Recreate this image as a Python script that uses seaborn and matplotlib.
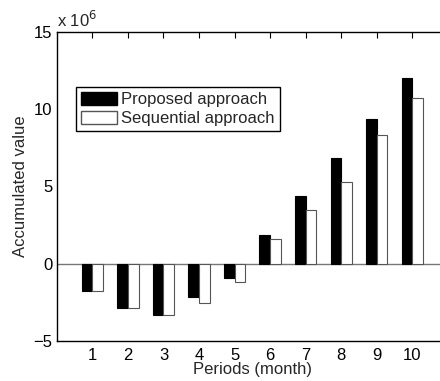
import seaborn as sns
import pandas as pd
import numpy as np
import matplotlib.pyplot as plt
from matplotlib.patches import Patch

# values in units of 10^6
periods = [1, 2, 3, 4, 5, 6, 7, 8, 9, 10]
proposed = [-1.75, -2.85, -3.34, -2.14, -0.90, 1.86, 4.38, 6.82, 9.37, 12.04]
sequential = [-1.75, -2.85, -3.34, -2.54, -1.16, 1.58, 3.47, 5.29, 8.31, 10.70]
series_names = ['Proposed approach', 'Sequential approach']

df = pd.DataFrame({
    'period': periods * 2,
    'value': proposed + sequential,
    'approach': [series_names[0]] * len(periods) + [series_names[1]] * len(periods),
})

sns.set_style('white')
plt.rcParams['font.family'] = ['Liberation Sans', 'DejaVu Sans']
plt.rcParams['font.size'] = 12

fig = plt.figure(figsize=(4.4, 3.81), dpi=100)
ax = fig.add_axes([0.129, 0.105, 0.889, 0.811])

sns.barplot(data=df, x='period', y='value', hue='approach', native_scale=True,
            palette=['black', 'white'], width=0.6, gap=0, dodge=True,
            edgecolor='#555555', linewidth=0.8, legend=False, ax=ax)
for i, bar in enumerate(ax.patches):
    if i < len(periods):
        bar.set_edgecolor('black')

ax.axhline(0, color='#777777', lw=1, zorder=0.5)
ax.set_xlim(0, 11)
ax.set_ylim(-5, 15)
ax.set_xticks(periods)
ax.set_yticks([-5, 0, 5, 10, 15])
ax.set_yticklabels(['\u22125', '0', '5', '10', '15'])
ax.tick_params(direction='in', length=4, width=0.8, top=True, right=True,
               labelsize=12, pad=3, colors='black')
ax.tick_params(axis='x', pad=5)
for s in ax.spines.values():
    s.set_color('black')
    s.set_linewidth(1)
ax.set_xlabel('Periods (month)', fontsize=12, labelpad=-1)
ax.set_ylabel('Accumulated value', fontsize=12, labelpad=4)
ax.text(0.0, 1.005, 'x 10$^{6}$', transform=ax.transAxes, fontsize=12,
        ha='left', va='bottom')

handles = [Patch(facecolor='black', edgecolor='black'),
           Patch(facecolor='white', edgecolor='#555555')]
ax.legend(handles, series_names, loc='upper left',
          bbox_to_anchor=(76 / 440, 1 - 87 / 381), bbox_transform=fig.transFigure,
          frameon=True, fancybox=False, edgecolor='black', framealpha=1,
          handlelength=2.15, handleheight=0.85, handletextpad=0.25,
          borderpad=0.3, labelspacing=0.2, borderaxespad=0, fontsize=12)

plt.savefig('out.png', dpi=100)
